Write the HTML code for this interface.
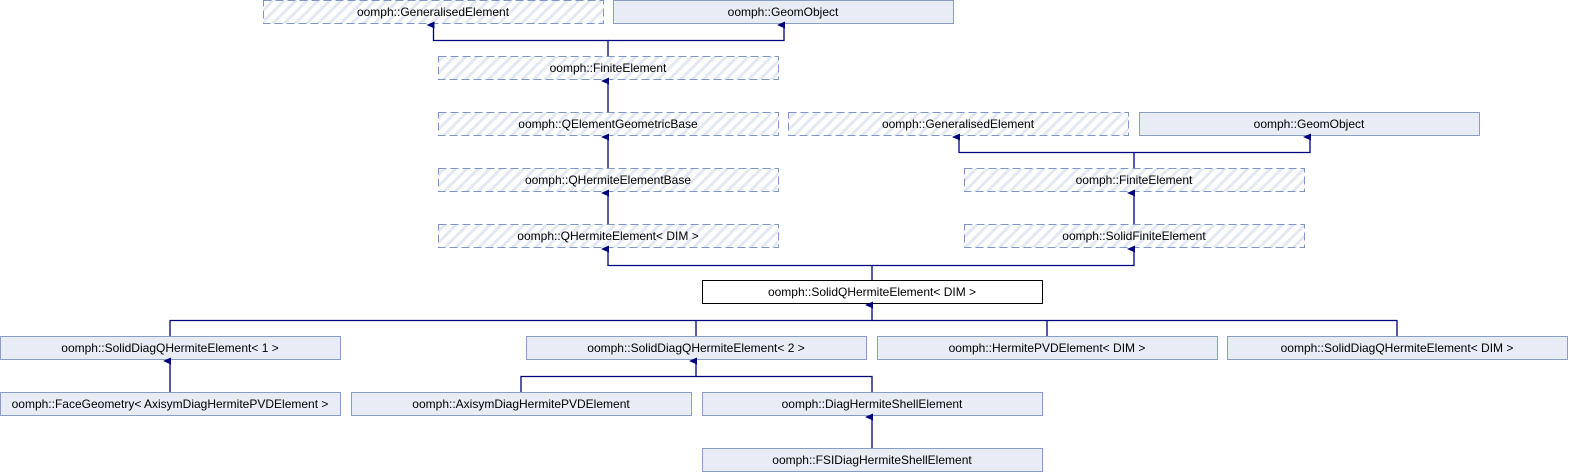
<!DOCTYPE html>
<html><head><style>body{margin:0;background:#fff}svg{display:block}text{font-family:"Liberation Sans",sans-serif;font-size:12px;fill:#000;text-anchor:middle}</style></head><body>
<svg width="1569" height="472" xmlns="http://www.w3.org/2000/svg">
<defs>
<pattern id="h" width="8" height="8" patternUnits="userSpaceOnUse" patternTransform="rotate(45)">
<rect width="8" height="8" fill="#fff"/><rect width="3" height="8" fill="#e3e8f2"/></pattern>
<marker id="a" markerWidth="8" markerHeight="8" refX="4" refY="7" orient="auto-start-reverse" markerUnits="userSpaceOnUse"><path d="M0.5,8 L4,0 L7.5,8 Z" fill="#000080"/></marker>
</defs>
<g fill="url(#h)" stroke="#7f95c9" stroke-dasharray="8,4">
<rect x="263.5" y="0.5" width="340" height="23"/>
<rect x="438.5" y="56.5" width="340" height="23"/>
<rect x="438.5" y="112.5" width="340" height="23"/>
<rect x="788.5" y="112.5" width="340" height="23"/>
<rect x="438.5" y="168.5" width="340" height="23"/>
<rect x="964.5" y="168.5" width="340" height="23"/>
<rect x="438.5" y="224.5" width="340" height="23"/>
<rect x="964.5" y="224.5" width="340" height="23"/>
</g>
<g fill="#e8ecf5" stroke="#8a9cc8">
<rect x="613.5" y="0.5" width="340" height="23"/>
<rect x="1139.5" y="112.5" width="340" height="23"/>
<rect x="0.5" y="336.5" width="340" height="23"/>
<rect x="526.5" y="336.5" width="340" height="23"/>
<rect x="877.5" y="336.5" width="340" height="23"/>
<rect x="1227.5" y="336.5" width="340" height="23"/>
<rect x="0.5" y="392.5" width="340" height="23"/>
<rect x="351.5" y="392.5" width="340" height="23"/>
<rect x="702.5" y="392.5" width="340" height="23"/>
<rect x="702.5" y="448.5" width="340" height="23"/>
</g>
<rect x="702.5" y="280.5" width="340" height="23" fill="#fff" stroke="#000"/>
<g stroke="#000080" fill="none" stroke-width="1.3">
<path d="M608,56 V40.5 H433.5 V25" marker-end="url(#a)"/>
<path d="M608,40.5 H784 V25" marker-end="url(#a)"/>
<path d="M608,112 V81" marker-end="url(#a)"/>
<path d="M608,168 V137" marker-end="url(#a)"/>
<path d="M608,224 V193" marker-end="url(#a)"/>
<path d="M1134,168 V152.5 H959 V137" marker-end="url(#a)"/>
<path d="M1134,152.5 H1310 V137" marker-end="url(#a)"/>
<path d="M1134,224 V193" marker-end="url(#a)"/>
<path d="M872,280 V265.5 H608 V249" marker-end="url(#a)"/>
<path d="M872,265.5 H1134 V249" marker-end="url(#a)"/>
<path d="M170,336 V320.5 H872 V305" marker-end="url(#a)"/>
<path d="M696,320.5 V336 M1047,320.5 V336 M872,320.5 H1397 V336"/>
<path d="M170,392 V361" marker-end="url(#a)"/>
<path d="M521,392 V376.5 H696 V361" marker-end="url(#a)"/>
<path d="M696,376.5 H872 V392"/>
<path d="M872,448 V417" marker-end="url(#a)"/>
</g>
<text x="433" y="16">oomph::GeneralisedElement</text>
<text x="783" y="16">oomph::GeomObject</text>
<text x="608" y="72">oomph::FiniteElement</text>
<text x="608" y="128">oomph::QElementGeometricBase</text>
<text x="958" y="128">oomph::GeneralisedElement</text>
<text x="1309" y="128">oomph::GeomObject</text>
<text x="608" y="184">oomph::QHermiteElementBase</text>
<text x="1134" y="184">oomph::FiniteElement</text>
<text x="608" y="240">oomph::QHermiteElement&lt; DIM &gt;</text>
<text x="1134" y="240">oomph::SolidFiniteElement</text>
<text x="872" y="296">oomph::SolidQHermiteElement&lt; DIM &gt;</text>
<text x="170" y="352">oomph::SolidDiagQHermiteElement&lt; 1 &gt;</text>
<text x="696" y="352">oomph::SolidDiagQHermiteElement&lt; 2 &gt;</text>
<text x="1047" y="352">oomph::HermitePVDElement&lt; DIM &gt;</text>
<text x="1397" y="352">oomph::SolidDiagQHermiteElement&lt; DIM &gt;</text>
<text x="170" y="408">oomph::FaceGeometry&lt; AxisymDiagHermitePVDElement &gt;</text>
<text x="521" y="408">oomph::AxisymDiagHermitePVDElement</text>
<text x="872" y="408">oomph::DiagHermiteShellElement</text>
<text x="872" y="464">oomph::FSIDiagHermiteShellElement</text>
</svg>
</body></html>
